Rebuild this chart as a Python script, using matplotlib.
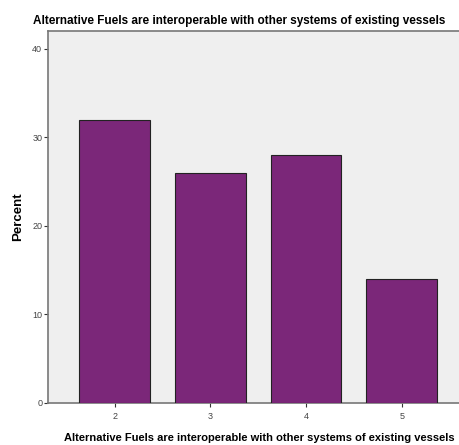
import matplotlib
matplotlib.use("Agg")
import matplotlib.pyplot as plt

categories = ["2", "3", "4", "5"]
percents = [32, 26, 28, 14]
title = "Alternative Fuels are interoperable with other systems of existing vessels"
ylabel = "Percent"
yticks = [0, 10, 20, 30, 40]

plt.rcParams['font.family'] = ['Liberation Sans', 'DejaVu Sans']

fig = plt.figure(figsize=(4.6, 4.45), dpi=100)
ax = fig.add_axes([0.104, 0.0944, 0.896, 0.836])
ax.set_facecolor("#EFEFEF")
xpos = [int(c) for c in categories]
ax.bar(xpos, percents, width=0.74, color="#7B2779", edgecolor="#222222", linewidth=0.8, zorder=3)
ax.set_xlim(1.30, 5.61)
ax.set_ylim(0, 42)
ax.set_xticks(xpos)
ax.set_xticklabels(categories)
ax.set_yticks(yticks)
ax.tick_params(axis='both', labelsize=6.5, colors="#333333", length=3, width=0.8)
ax.tick_params(axis='x', labelcolor="#444444")
ax.tick_params(axis='y', labelcolor="#444444", pad=1)
for s in ["left", "bottom", "top"]:
    ax.spines[s].set_color("#777777")
    ax.spines[s].set_linewidth(1.2)
ax.spines["right"].set_visible(False)
ax.set_ylabel(ylabel, fontsize=9.5, fontweight="bold", labelpad=6)
ax.set_xlabel(title, fontsize=8, fontweight="bold")
ax.xaxis.set_label_coords(0.512, -0.082)
fig.text(0.52, 0.953, title, fontsize=8.5, fontweight="bold", ha="center", va="center")
fig.savefig("out.png", dpi=100)
